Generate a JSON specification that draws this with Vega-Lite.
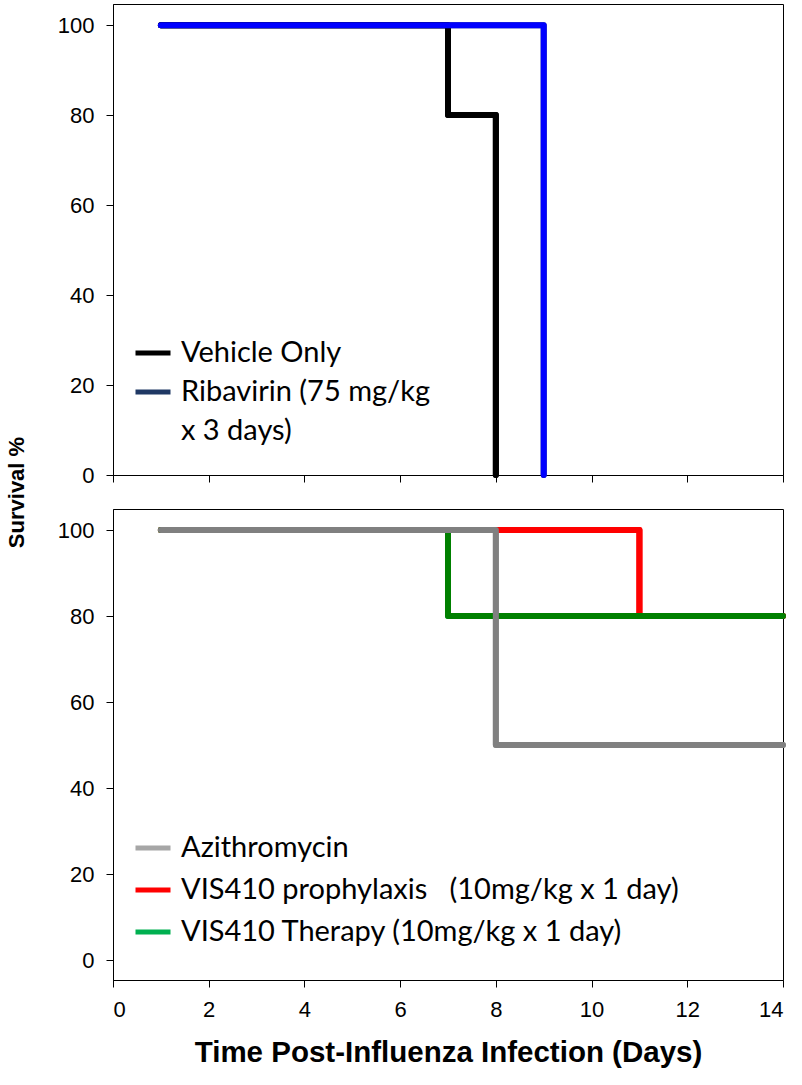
{
  "$schema": "https://vega.github.io/schema/vega-lite/v6.json",
  "background": "white",
  "padding": {"left": 4, "top": 3, "right": 15, "bottom": 8},
  "config": {
    "view": {"stroke": "black", "strokeWidth": 1},
    "axis": {
      "grid": false,
      "domainColor": "black",
      "tickColor": "black",
      "tickSize": 7,
      "labelColor": "black",
      "labelFont": "Liberation Sans",
      "labelFontSize": 22,
      "labelPadding": 12,
      "titleColor": "black",
      "titleFont": "Liberation Sans",
      "titleFontWeight": "bold"
    },
    "legend": {
      "orient": "none",
      "title": null,
      "padding": 0,
      "symbolType": "stroke",
      "symbolSize": 1225,
      "symbolStrokeWidth": 5,
      "labelFont": "Lato",
      "labelFontSize": 29,
      "labelColor": "black",
      "labelLimit": 700,
      "labelOffset": 8
    }
  },
  "resolve": {
    "scale": {"color": "independent", "stroke": "independent"},
    "legend": {"color": "independent", "stroke": "independent"}
  },
  "vconcat": [
    {
      "width": 670,
      "height": 471,
      "data": {"values": [
        {"series": "Vehicle Only", "day": 1, "survival": 100},
        {"series": "Vehicle Only", "day": 7, "survival": 80},
        {"series": "Vehicle Only", "day": 8, "survival": 0},
        {"series": "Ribavirin (75 mg/kg x 3 days)", "day": 1, "survival": 100},
        {"series": "Ribavirin (75 mg/kg x 3 days)", "day": 9, "survival": 0}
      ]},
      "encoding": {
        "x": {"field": "day", "type": "quantitative", "scale": {"domain": [0, 14], "nice": false},
              "axis": {"values": [0, 2, 4, 6, 8, 10, 12, 14], "labels": false, "title": null}},
        "y": {"field": "survival", "type": "quantitative", "scale": {"domain": [0, 104.7], "nice": false},
              "axis": {"values": [0, 20, 40, 60, 80, 100], "title": "Survival %", "titleFontSize": 22,
                       "titleAngle": 270, "titleAlign": "center", "titleBaseline": "middle", "titleX": -97, "titleY": 488}}
      },
      "layer": [
        {
          "mark": {"type": "line", "interpolate": "step-after", "strokeWidth": 6, "strokeCap": "round", "strokeJoin": "round"},
          "encoding": {
            "color": {"field": "series", "type": "nominal",
                      "scale": {"domain": ["Vehicle Only", "Ribavirin (75 mg/kg x 3 days)", "x 3 days)"], "range": ["#000000", "#1F3864", "rgba(255,255,255,0)"]},
                      "legend": {"legendX": 20, "legendY": 329, "rowPadding": 4,
                                 "labelExpr": "datum.label == 'Ribavirin (75 mg/kg x 3 days)' ? 'Ribavirin (75 mg/kg' : datum.label"}}
          }
        },
        {
          "mark": {"type": "line", "interpolate": "step-after", "strokeWidth": 6, "strokeCap": "round", "strokeJoin": "round"},
          "encoding": {
            "stroke": {"field": "series", "type": "nominal",
                       "scale": {"domain": ["Vehicle Only", "Ribavirin (75 mg/kg x 3 days)"], "range": ["#000000", "#0000FF"]},
                       "legend": null}
          }
        }
      ]
    },
    {
      "width": 670,
      "height": 471,
      "data": {"values": [
        {"series": "VIS410 prophylaxis \u00a0 (10mg/kg x 1 day)", "day": 1, "survival": 100},
        {"series": "VIS410 prophylaxis \u00a0 (10mg/kg x 1 day)", "day": 11, "survival": 80},
        {"series": "VIS410 prophylaxis \u00a0 (10mg/kg x 1 day)", "day": 14, "survival": 80},
        {"series": "VIS410 Therapy (10mg/kg x 1 day)", "day": 1, "survival": 100},
        {"series": "VIS410 Therapy (10mg/kg x 1 day)", "day": 7, "survival": 80},
        {"series": "VIS410 Therapy (10mg/kg x 1 day)", "day": 14, "survival": 80},
        {"series": "Azithromycin", "day": 1, "survival": 100},
        {"series": "Azithromycin", "day": 8, "survival": 50},
        {"series": "Azithromycin", "day": 14, "survival": 50}
      ]},
      "encoding": {
        "x": {"field": "day", "type": "quantitative", "scale": {"domain": [0, 14], "nice": false},
              "axis": {"values": [0, 2, 4, 6, 8, 10, 12, 14], "title": "Time Post-Influenza Infection (Days)",
                       "titleFontSize": 29.5, "titlePadding": 18}},
        "y": {"field": "survival", "type": "quantitative", "scale": {"domain": [-4.65, 104.9], "nice": false},
              "axis": {"values": [0, 20, 40, 60, 80, 100], "title": null}}
      },
      "layer": [
        {
          "mark": {"type": "line", "interpolate": "step-after", "strokeWidth": 6, "strokeCap": "round", "strokeJoin": "round"},
          "encoding": {
            "color": {"field": "series", "type": "nominal",
                      "scale": {"domain": ["Azithromycin", "VIS410 prophylaxis \u00a0 (10mg/kg x 1 day)", "VIS410 Therapy (10mg/kg x 1 day)"],
                                "range": ["#A6A6A6", "#FF0000", "#00B050"]},
                      "legend": {"legendX": 20, "legendY": 319, "rowPadding": 7}}
          }
        },
        {
          "mark": {"type": "line", "interpolate": "step-after", "strokeWidth": 6, "strokeCap": "round", "strokeJoin": "round"},
          "encoding": {
            "stroke": {"field": "series", "type": "nominal",
                       "scale": {"domain": ["Azithromycin", "VIS410 prophylaxis \u00a0 (10mg/kg x 1 day)", "VIS410 Therapy (10mg/kg x 1 day)"],
                                 "range": ["#808080", "#FF0000", "#008000"]},
                       "legend": null}
          }
        }
      ]
    }
  ],
  "bounds": "flush",
  "spacing": 34
}
